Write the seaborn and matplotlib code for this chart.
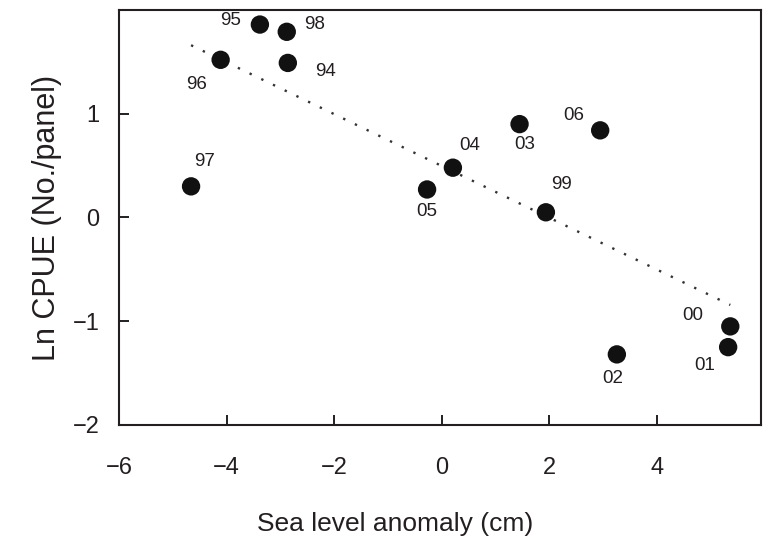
import matplotlib
matplotlib.use("Agg")
import matplotlib.pyplot as plt
import seaborn as sns
import pandas as pd

years = ["95", "98", "96", "94", "97", "05", "04", "03", "06", "99", "00", "01", "02"]
sea_level = [-3.38, -2.88, -4.11, -2.86, -4.66, -0.27, 0.21, 1.45, 2.95, 1.94, 5.37, 5.33, 3.26]
ln_cpue = [1.86, 1.79, 1.52, 1.49, 0.30, 0.27, 0.48, 0.90, 0.84, 0.05, -1.05, -1.25, -1.32]
# label offsets (points)
label_dx = [-21, 20, -17, 27, 10, 0, 12, 4, -19, 11, -27, -17, -3]
label_dy = [3, 5, -18, -6, 18, -16, 16, -15, 11, 20, 8, -13, -17]

x_ticks = [-6, -4, -2, 0, 2, 4]
y_ticks = [-2, -1, 0, 1]

sns.set_theme(style="ticks")
plt.rcParams["font.family"] = ["Liberation Sans", "DejaVu Sans"]
ink = "#231f20"

df = pd.DataFrame({"sla": sea_level, "cpue": ln_cpue, "year": years})

fig = plt.figure(figsize=(7.63, 5.42), dpi=100)
ax = fig.add_axes([0.156, 0.216, 0.842, 0.7655])

sns.regplot(data=df, x="sla", y="cpue", ci=None, ax=ax,
            scatter_kws=dict(s=175, color="#111111", edgecolor="none", alpha=1, zorder=3),
            line_kws=dict(color="#333333", linestyle=(0, (1, 4.5)), linewidth=1.7))

for yr, x, y, dx, dy in zip(years, sea_level, ln_cpue, label_dx, label_dy):
    ax.annotate(yr, (x, y), xytext=(dx, dy), textcoords="offset points",
                ha="center", va="center", fontsize=13.5, color=ink)

ax.set_xlim(-6, 5.95)
ax.set_ylim(-2, 2)
ax.set_xticks(x_ticks)
ax.set_yticks(y_ticks)
ax.set_xticklabels([f"\u2212{abs(v)}" if v < 0 else str(v) for v in x_ticks])
ax.set_yticklabels([f"\u2212{abs(v)}" if v < 0 else str(v) for v in y_ticks])
ax.tick_params(direction="in", length=7, width=1.4, colors=ink, labelsize=17)
ax.tick_params(axis="x", pad=23)
ax.tick_params(axis="y", pad=14)
for s in ax.spines.values():
    s.set_linewidth(1.5)
    s.set_color(ink)
ax.set_xlabel("Sea level anomaly (cm)", fontsize=19, color=ink, labelpad=24, x=0.43)
ax.set_ylabel("Ln CPUE (No./panel)", fontsize=22, color=ink, labelpad=8)

fig.savefig("out.png", dpi=100)
